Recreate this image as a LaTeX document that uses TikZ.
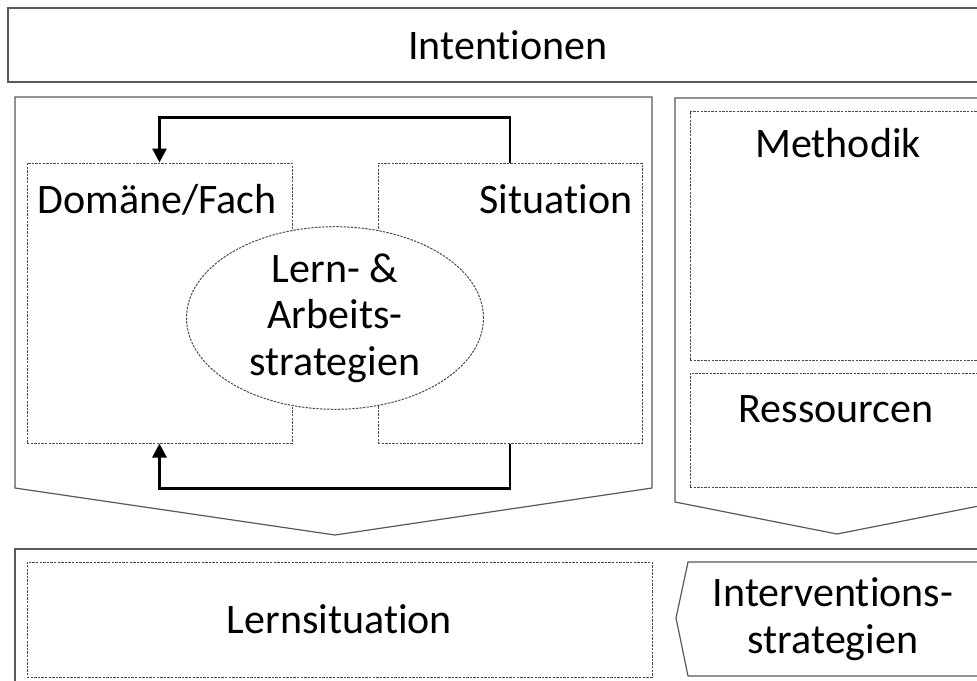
\documentclass[tikz,border=0pt]{standalone}
\usepackage{fontspec}
\setmainfont[Ligatures={NoCommon,NoContextual}]{Carlito}
\usetikzlibrary{arrows.meta,shapes.geometric}

\tikzset{
  frame/.style={draw=black!65, line width=0.6pt},
  dotbox/.style={draw=black!70, line width=0.5pt, dash pattern=on 1.2pt off 0.6pt},
  lbl/.style={inner sep=0pt, align=center},
  loopline/.style={line width=1.4pt, -{Triangle[length=7pt,width=7pt]}}
}

\begin{document}
\begin{tikzpicture}[x=0.5pt, y=-0.5pt, font=\fontsize{21}{23.3}\selectfont]

\clip (0,0) rectangle (977,680);
\fill[white] (0,0) rectangle (977,680);

\node[frame, minimum width=500pt, minimum height=37pt] (intent) at (508,45) {Intentionen};

\draw[frame] (15,97) -- (652,97) -- (652,488) -- (335,535) -- (15,488) -- cycle;
\draw[frame] (675,98) -- (999,98) -- (999,502) -- (837,534) -- (675,502) -- cycle;

\node[dotbox, minimum width=132.5pt, minimum height=140pt] (dom) at (159.5,303) {};
\node[dotbox, minimum width=132pt, minimum height=140pt] (sit) at (510,303) {};
\node[lbl, anchor=base] (domtxt) at (157,213) {Domäne/Fach};
\node[lbl, anchor=base] (sittxt) at (556,213) {Situation};

\node[dotbox, ellipse, fill=white, minimum width=148.5pt, minimum height=80pt, inner sep=0pt, align=center] (strat) at (335,318) {Lern- \&\\Arbeits-\\strategien};

\draw[loopline] (sit.north) -- ++(0,-45) -| (dom.north);
\draw[loopline] (sit.south) -- ++(0,45) -| (dom.south);

\node[dotbox, minimum width=148pt, minimum height=124.5pt] (meth) at (838,235.5) {};
\node[lbl, anchor=base] (methtxt) at (838,157) {Methodik};
\node[dotbox, minimum width=148pt, minimum height=57pt] (res) at (838,430) {};
\node[lbl, anchor=base] (restxt) at (836,422) {Ressourcen};

\draw[frame] (15,549) rectangle (1010,720);
\node[dotbox, minimum width=312.5pt, minimum height=57.5pt] (lern) at (339.5,619.5) {Lernsituation};

\draw[frame] (676,618) -- (688,562) -- (1000,562) -- (1000,676) -- (688,676) -- cycle;
\node[lbl] (interv) at (833,619) {Interventions-\\strategien};

\end{tikzpicture}
\end{document}
